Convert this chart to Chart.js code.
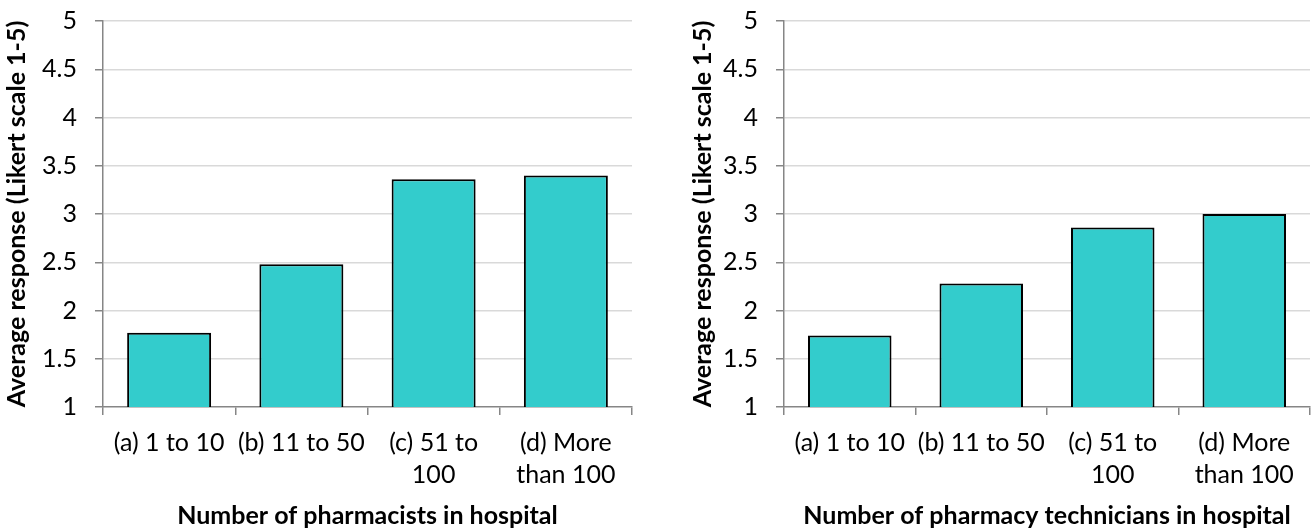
<!DOCTYPE html>
<html>
<head>
    <title>Average response by hospital staffing</title>
    <script src="https://cdn.jsdelivr.net/npm/chart.js"></script>
    <style>
        html, body { margin: 0; padding: 0; background: #fff; overflow: hidden; }
        .panel { position: absolute; top: 0; height: 528px; }
    </style>
</head>
<body>
    <div class="panel" style="left:0; width:650px;"><canvas id="pharmacistChart"></canvas></div>
    <div class="panel" style="left:681px; width:630px;"><canvas id="technicianChart"></canvas></div>
    <script>
        // Category labels (multi-line where the original wraps)
        const categories = [
            '(a) 1 to 10',
            '(b) 11 to 50',
            ['(c) 51 to', '100'],
            ['(d) More', 'than 100']
        ];

        // Average Likert response
        const pharmacistValues = [1.77, 2.48, 3.36, 3.40];
        const technicianValues = [1.74, 2.28, 2.86, 3.00];

        const yMin = 1, yMax = 5, yStep = 0.5;
        const yTitle = 'Average response (Likert scale 1-5)';

        const FONT = 'Lato';

        function makeChart(id, values, xTitle, opts) {
            const ctx = document.getElementById(id).getContext('2d');
            return new Chart(ctx, {
                type: 'bar',
                data: {
                    labels: categories,
                    datasets: [{
                        data: values,
                        backgroundColor: '#33CCCC',
                        borderColor: '#000000',
                        borderWidth: 2,
                        categoryPercentage: 1,
                        barPercentage: 0.635
                    }]
                },
                options: {
                    responsive: true,
                    maintainAspectRatio: false,
                    animation: false,
                    layout: { padding: { top: 21, right: opts.padRight, bottom: 0, left: 0 } },
                    plugins: { legend: { display: false }, tooltip: { enabled: false } },
                    scales: {
                        x: {
                            afterFit: s => { s.height = 121; },
                            grid: {
                                drawOnChartArea: false,
                                tickLength: 8,
                                tickColor: '#868686',
                                lineWidth: 1.5
                            },
                            border: { color: '#868686', width: 1.5 },
                            ticks: {
                                color: '#000',
                                padding: 12,
                                maxRotation: 0,
                                autoSkip: false,
                                font: { family: FONT, size: 25, lineHeight: 1.28 }
                            },
                            title: {
                                display: true,
                                text: xTitle,
                                color: '#000',
                                padding: 0,
                                font: { family: FONT, size: 25, weight: 'bold', lineHeight: 1 }
                            }
                        },
                        y: {
                            min: yMin,
                            max: yMax,
                            // fixed axis width; drop the label overhang so the plot top sits at the layout padding
                            afterFit: s => { s.width = 103; s.paddingTop = 0; s.paddingBottom = 0; },
                            grid: {
                                color: c => c.tick && c.tick.value === yMin ? 'rgba(0,0,0,0)' : '#d9d9d9',
                                lineWidth: 1.5,
                                tickLength: 8,
                                tickColor: '#868686'
                            },
                            border: { color: '#868686', width: 1.5 },
                            ticks: {
                                stepSize: yStep,
                                color: '#000',
                                padding: 18,
                                font: { family: FONT, size: 25 },
                                callback: v => String(v)
                            },
                            title: {
                                display: true,
                                text: yTitle,
                                color: '#000',
                                padding: { top: opts.yTitlePad, bottom: 0 },
                                font: { family: FONT, size: 25, weight: 'bold', lineHeight: 1 }
                            }
                        }
                    }
                }
            });
        }

        makeChart('pharmacistChart', pharmacistValues, 'Number of pharmacists in hospital',
            { padRight: 18, yTitlePad: 4 });
        makeChart('technicianChart', technicianValues, 'Number of pharmacy technicians in hospital',
            { padRight: 1, yTitlePad: 9 });
    </script>
</body>
</html>
